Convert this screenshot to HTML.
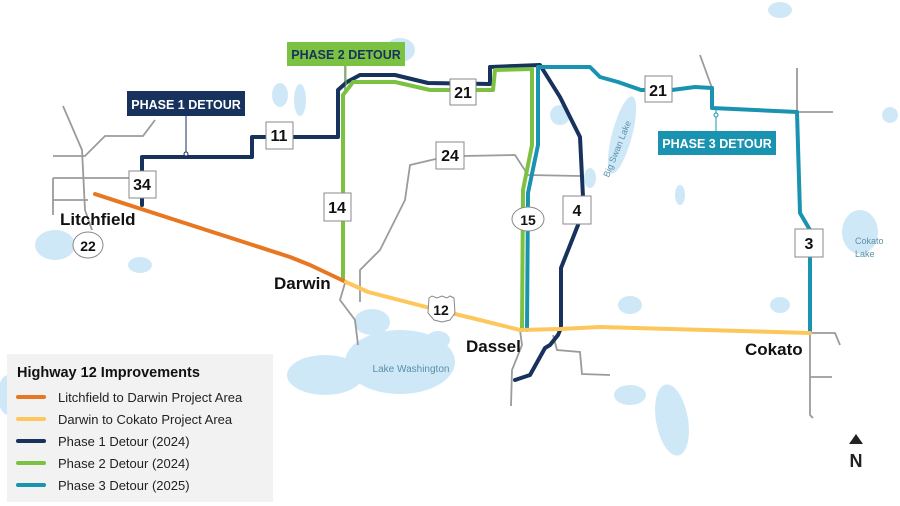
<!DOCTYPE html>
<html><head><meta charset="utf-8"><style>
html,body{margin:0;padding:0;background:#fff;}
svg{display:block;}
text{font-family:"Liberation Sans",sans-serif;}
</style></head><body>
<svg width="900" height="506" viewBox="0 0 900 506" xmlns="http://www.w3.org/2000/svg">
<rect width="900" height="506" fill="#fff"/>
<g fill="#cfe8f8">
<ellipse cx="400" cy="362" rx="55" ry="32"/>
<ellipse cx="325" cy="375" rx="38" ry="20"/>
<ellipse cx="372" cy="322" rx="18" ry="13"/>
<ellipse cx="55" cy="245" rx="20" ry="15"/>
<ellipse cx="622" cy="135" rx="10" ry="40" transform="rotate(15 622 135)"/>
<ellipse cx="860" cy="232" rx="18" ry="22"/>
<ellipse cx="280" cy="95" rx="8" ry="12"/>
<ellipse cx="300" cy="100" rx="6" ry="16"/>
<ellipse cx="400" cy="50" rx="15" ry="12"/>
<ellipse cx="140" cy="265" rx="12" ry="8"/>
<ellipse cx="8" cy="395" rx="10" ry="20"/>
<ellipse cx="672" cy="420" rx="16" ry="36" transform="rotate(-10 672 420)"/>
<ellipse cx="630" cy="395" rx="16" ry="10"/>
<ellipse cx="630" cy="305" rx="12" ry="9"/>
<ellipse cx="780" cy="305" rx="10" ry="8"/>
<ellipse cx="560" cy="115" rx="10" ry="10"/>
<ellipse cx="590" cy="178" rx="6" ry="10"/>
<ellipse cx="680" cy="195" rx="5" ry="10"/>
<ellipse cx="890" cy="115" rx="8" ry="8"/>
<ellipse cx="780" cy="10" rx="12" ry="8"/>
<ellipse cx="438" cy="340" rx="12" ry="9"/>
</g>
<g fill="none" stroke="#9b9b9b" stroke-width="1.8">
<path d="M63 106 L82 150 L85 210 L92 230"/>
<path d="M53 156 L85 156 L105 136 L143 136 L155 120"/>
<path d="M53 178 L130 178"/>
<path d="M53 178 L53 215"/>
<path d="M53 200 L88 200"/>
<path d="M345 283 L340 300 L355 320 L358 345"/>
<path d="M360 302 L360 270 L380 250 L405 200 L410 165 L440 158"/>
<path d="M463 156 L515 155 L528 175 L580 176"/>
<path d="M520 330 L522 345 L512 370 L511 406"/>
<path d="M553 335 L557 350 L580 352 L582 374 L610 375"/>
<path d="M810 333 L835 333 L840 345"/>
<path d="M810 333 L810 415 L813 418"/>
<path d="M810 377 L832 377"/>
<path d="M700 55 L712 88"/>
<path d="M797 68 L797 112 L833 112"/>
<path d="M345 65 L345 90"/>
</g>
<g fill="none" stroke-linejoin="round" stroke-linecap="round" stroke-width="4">
<path stroke="#17325c" d="M142 205 L142 157 L252 157 L252 137 L338 137 L338 90 L347 82 L360 75 L395 75 L428 83 L490 84 L490 67 L540 65 L560 97 L580 137 L583 197 L578 225 L561 268 L561 328 L558 335 L550 345 L545 348 L530 375 L515 380"/>
<path stroke="#7cc242" d="M343 278 L343 95 L353 82 L395 82 L430 90 L493 90 L495 70 L532 69 L532 145 L523 190 L522 330"/>
<path stroke="#1a93b0" d="M538 68 L538 145 L528 193 L527 330"/>
<path stroke="#1a93b0" d="M538 67 L590 67 L600 77 L618 82 L641 90 L672 90 L695 87 L712 88 L712 108 L797 112 L800 213 L810 230 L810 333"/>
<path stroke="#e87722" d="M95 194 L135 207 L290 257 L310 265 L346 282"/>
<path stroke="#fdc75c" d="M346 282 L368 292 L430 308 L480 320 L520 330 L560 329 L600 327 L810 333"/>
</g>
<line x1="186" y1="116" x2="186" y2="154" stroke="#17325c" stroke-width="1"/>
<circle cx="186" cy="154" r="2" fill="#fff" stroke="#17325c"/>
<line x1="346" y1="66" x2="346" y2="86" stroke="#7cc242" stroke-width="1"/>
<line x1="716" y1="110" x2="716" y2="131" stroke="#1a93b0" stroke-width="1"/>
<circle cx="716" cy="115" r="2" fill="#fff" stroke="#1a93b0"/>
<rect x="127" y="91" width="118" height="25" fill="#17325c"/>
<text x="186" y="109" fill="#fff" font-size="12.5" font-weight="bold" text-anchor="middle">PHASE 1 DETOUR</text>
<rect x="287" y="42" width="118" height="24" fill="#7cc242"/>
<text x="346" y="59" fill="#17325c" font-size="12.5" font-weight="bold" text-anchor="middle">PHASE 2 DETOUR</text>
<rect x="658" y="131" width="118" height="24" fill="#1a93b0"/>
<text x="717" y="148" fill="#fff" font-size="12.5" font-weight="bold" text-anchor="middle">PHASE 3 DETOUR</text>
<g fill="#fff" stroke="#888" stroke-width="1">
<rect x="266" y="122" width="27" height="27"/>
<rect x="129" y="171" width="27" height="27"/>
<rect x="324" y="193" width="27" height="28"/>
<rect x="450" y="79" width="26" height="26"/>
<rect x="436" y="142" width="28" height="27"/>
<rect x="563" y="196" width="28" height="28"/>
<rect x="645" y="76" width="27" height="26"/>
<rect x="795" y="229" width="28" height="28"/>
<ellipse cx="528" cy="219" rx="16" ry="12"/>
<ellipse cx="88" cy="245" rx="15" ry="13"/>
<path d="M429 298 L432 296 L437 298 L442 296 L447 298 L450 296 L454 298 L455 313 L450 320 L442 322 L434 320 L428 313 Z"/>
</g>
<g font-size="16" font-weight="bold" fill="#111" text-anchor="middle">
<text x="279" y="141">11</text>
<text x="142" y="190">34</text>
<text x="337" y="213">14</text>
<text x="463" y="98">21</text>
<text x="450" y="161">24</text>
<text x="577" y="216">4</text>
<text x="658" y="96">21</text>
<text x="809" y="249">3</text>
<text x="528" y="225" font-size="14">15</text>
<text x="88" y="251" font-size="14">22</text>
<text x="441" y="315" font-size="14">12</text>
</g>
<g font-size="17" font-weight="bold" fill="#111">
<text x="60" y="225">Litchfield</text>
<text x="274" y="289">Darwin</text>
<text x="466" y="352">Dassel</text>
<text x="745" y="355">Cokato</text>
</g>
<text x="411" y="372" font-size="10" fill="#5a8fa8" text-anchor="middle">Lake Washington</text>
<text x="620" y="150" font-size="9" fill="#5a8fa8" transform="rotate(-68 620 150)" text-anchor="middle">Big Swan Lake</text>
<text x="855" y="244" font-size="9" fill="#5a8fa8">Cokato</text>
<text x="855" y="257" font-size="9" fill="#5a8fa8">Lake</text>
<rect x="7" y="354" width="266" height="148" fill="#f2f2f2"/>
<text x="17" y="377" font-size="14.5" font-weight="bold" fill="#111">Highway 12 Improvements</text>
<g stroke-width="4" stroke-linecap="round">
<line x1="18" y1="397" x2="44" y2="397" stroke="#e87722"/>
<line x1="18" y1="419" x2="44" y2="419" stroke="#fdc75c"/>
<line x1="18" y1="441" x2="44" y2="441" stroke="#17325c"/>
<line x1="18" y1="463" x2="44" y2="463" stroke="#7cc242"/>
<line x1="18" y1="485" x2="44" y2="485" stroke="#1a93b0"/>
</g>
<g font-size="13" fill="#222">
<text x="58" y="402">Litchfield to Darwin Project Area</text>
<text x="58" y="424">Darwin to Cokato Project Area</text>
<text x="58" y="446">Phase 1 Detour (2024)</text>
<text x="58" y="468">Phase 2 Detour (2024)</text>
<text x="58" y="490">Phase 3 Detour (2025)</text>
</g>
<path d="M856 434 L863 444 L849 444 Z" fill="#222"/>
<text x="856" y="467" font-size="18" font-weight="bold" fill="#222" text-anchor="middle">N</text>
</svg>
</body></html>
